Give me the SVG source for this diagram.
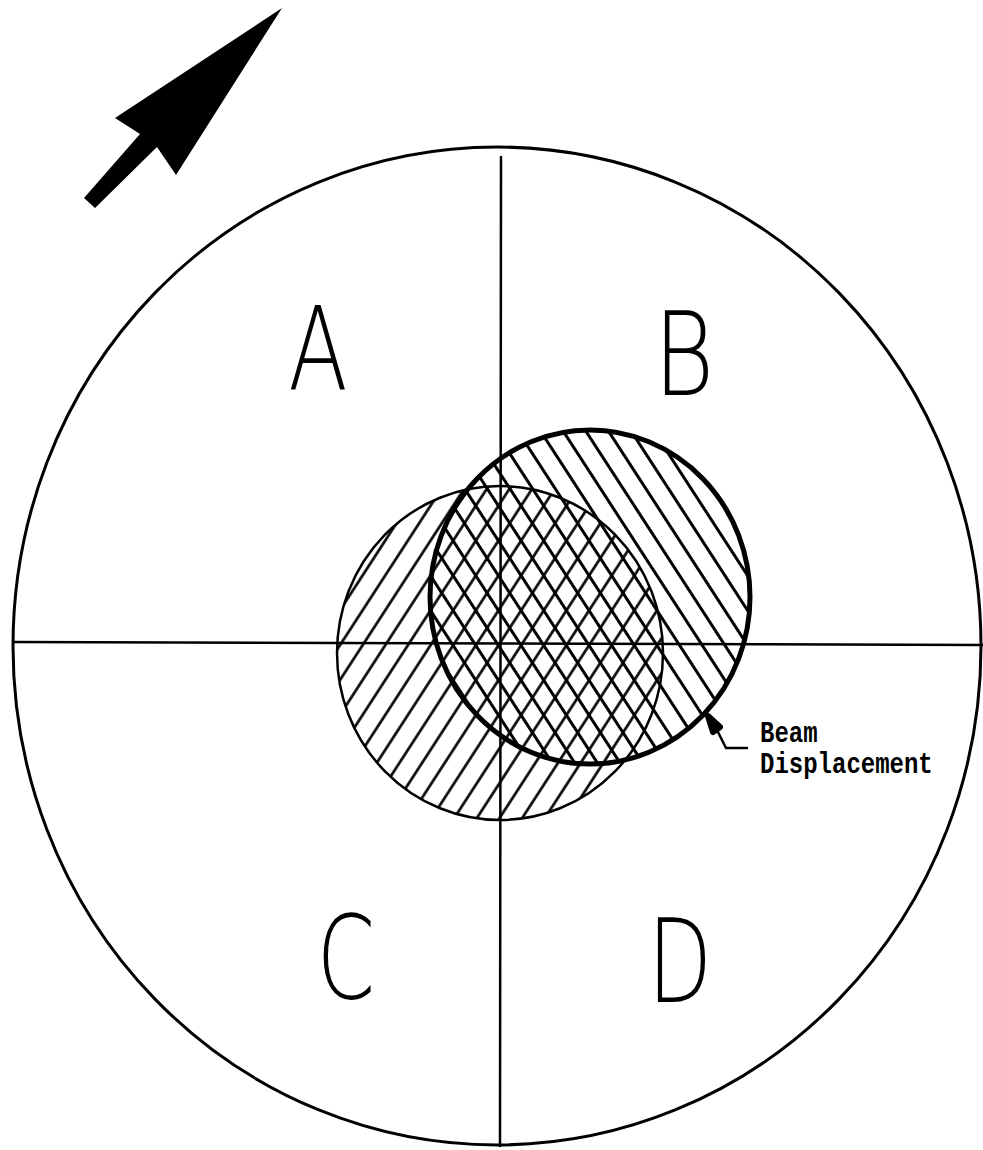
<svg xmlns="http://www.w3.org/2000/svg" width="983" height="1150" viewBox="0 0 983 1150">
<style>
.ln{stroke:#000;fill:none;stroke-linecap:round}
.letter{font-family:"DejaVu Sans","Liberation Sans",sans-serif;font-weight:200;font-size:116px;fill:#000;text-anchor:middle}
.lbl{font-family:"Liberation Mono","DejaVu Sans Mono",monospace;font-size:24px;font-weight:bold;fill:#000}
</style>
<defs>
<pattern id="hatchF" patternUnits="userSpaceOnUse" width="19" height="19" patternTransform="rotate(33)">
<line x1="9.5" y1="-2" x2="9.5" y2="21" stroke="#000" stroke-width="2.6"/>
</pattern>
<pattern id="hatchB" patternUnits="userSpaceOnUse" width="19" height="19" patternTransform="rotate(-33)">
<line x1="9.5" y1="-2" x2="9.5" y2="21" stroke="#000" stroke-width="3"/>
</pattern>
</defs>
<rect width="983" height="1150" fill="#fff"/>
<g id="outer">
<ellipse cx="497" cy="646" rx="484" ry="499" class="ln" stroke-width="3"/>
</g>
<g id="axes">
<line x1="501" y1="157" x2="500" y2="1146" class="ln" stroke-width="2.5"/>
<line x1="14" y1="642" x2="983" y2="645" class="ln" stroke-width="2.5"/>
</g>
<g id="beam-original">
<ellipse cx="500" cy="653" rx="163" ry="167" fill="url(#hatchF)"/>
<ellipse cx="500" cy="653" rx="163" ry="167" class="ln" stroke-width="2.5"/>
</g>
<g id="beam-displaced">
<ellipse cx="590" cy="597" rx="160" ry="167" fill="url(#hatchB)"/>
<ellipse cx="590" cy="597" rx="160" ry="167" class="ln" stroke-width="5"/>
</g>
<g id="arrow">
<polygon points="282,8 115,118 140,134 84,198 95,208 157,147 176,175" fill="#000"/>
</g>
<g id="labels">
<text class="letter" transform="translate(318,390) scale(0.75,1)">A</text>
<text class="letter" transform="translate(684,395) scale(0.8,1)">B</text>
<text class="letter" transform="translate(346,998) scale(0.72,1)">C</text>
<text class="letter" transform="translate(680,1002) scale(0.72,1)">D</text>
</g>
<g id="connectors">
<path d="M708,716 L720,727 L713,732 Z" fill="#000" stroke="#000" stroke-width="6" stroke-linejoin="round"/>
<polyline points="716,728 726,748 747,748" class="ln" stroke-width="2.5"/>
</g>
<g id="beam-label">
<text class="lbl" transform="translate(760,742) scale(1,1.25)">Beam</text>
<text class="lbl" transform="translate(760,773) scale(1,1.25)">Displacement</text>
</g>
</svg>
